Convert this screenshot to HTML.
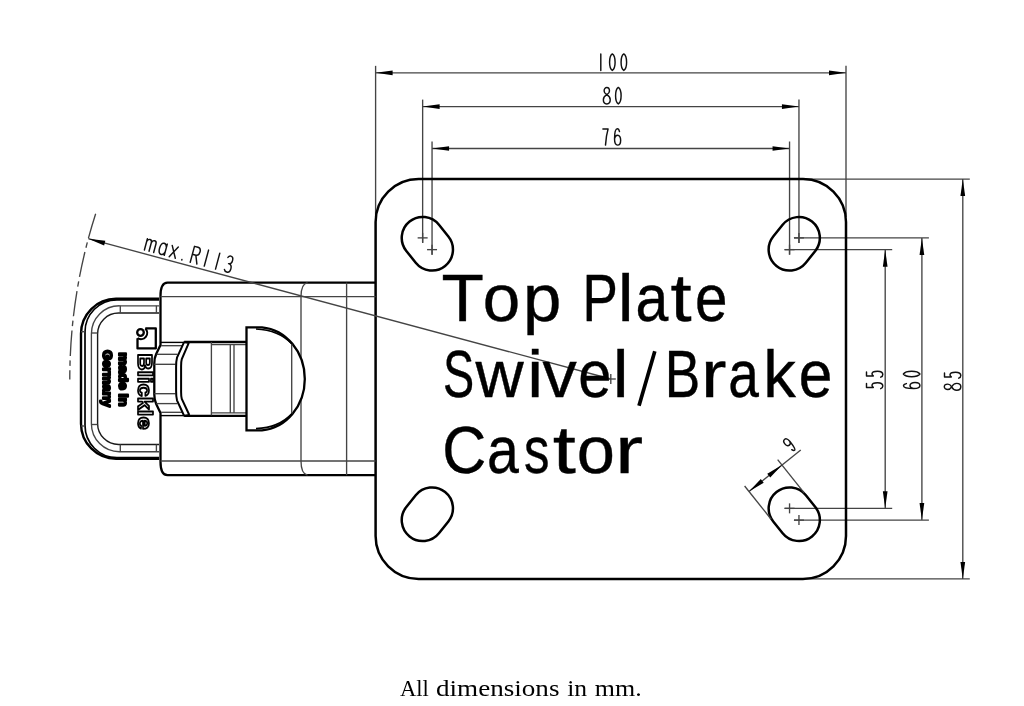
<!DOCTYPE html>
<html><head><meta charset="utf-8"><style>
html,body{margin:0;padding:0;background:#fff;width:1024px;height:706px;overflow:hidden}
svg{display:block;will-change:transform}
text{font-kerning:none}
</style></head><body>
<svg width="1024" height="706" viewBox="0 0 1024 706">
<rect width="1024" height="706" fill="#fff"/>
<line x1="375.60" y1="65.85" x2="375.60" y2="217.08" stroke="#444444" stroke-width="1.35" fill="none"/>
<line x1="846.00" y1="65.85" x2="846.00" y2="217.08" stroke="#444444" stroke-width="1.35" fill="none"/>
<line x1="422.64" y1="99.60" x2="422.64" y2="242.88" stroke="#444444" stroke-width="1.35" fill="none"/>
<line x1="798.96" y1="99.60" x2="798.96" y2="242.88" stroke="#444444" stroke-width="1.35" fill="none"/>
<line x1="432.05" y1="141.50" x2="432.05" y2="254.64" stroke="#444444" stroke-width="1.35" fill="none"/>
<line x1="789.55" y1="141.50" x2="789.55" y2="254.64" stroke="#444444" stroke-width="1.35" fill="none"/>
<line x1="375.60" y1="72.85" x2="846.00" y2="72.85" stroke="#444444" stroke-width="1.35" fill="none"/>
<polygon points="375.60,72.85 392.60,75.20 392.60,70.50" fill="#000"/>
<polygon points="846.00,72.85 829.00,70.50 829.00,75.20" fill="#000"/>
<line x1="422.64" y1="106.60" x2="798.96" y2="106.60" stroke="#444444" stroke-width="1.35" fill="none"/>
<polygon points="422.64,106.60 439.64,108.95 439.64,104.25" fill="#000"/>
<polygon points="798.96,106.60 781.96,104.25 781.96,108.95" fill="#000"/>
<line x1="432.05" y1="148.50" x2="789.55" y2="148.50" stroke="#444444" stroke-width="1.35" fill="none"/>
<polygon points="432.05,148.50 449.05,150.85 449.05,146.15" fill="#000"/>
<polygon points="789.55,148.50 772.55,146.15 772.55,150.85" fill="#000"/>
<g transform="translate(597.40,53.90) rotate(0.000) skewX(0) scale(1.0)" stroke="#111" stroke-width="1.450" fill="none" stroke-linecap="round" stroke-linejoin="round"><path transform="translate(0.00,0)" d="M3.4,0 V16.5"/><path transform="translate(11.50,0)" d="M3.40 0.00C5.48 1.40 6.20 5.00 6.20 8.25C6.20 11.50 5.48 15.10 3.40 16.50C1.32 15.10 0.68 11.50 0.68 8.25C0.68 5.00 1.32 1.40 3.40 0.00Z"/><path transform="translate(23.00,0)" d="M3.40 0.00C5.48 1.40 6.20 5.00 6.20 8.25C6.20 11.50 5.48 15.10 3.40 16.50C1.32 15.10 0.68 11.50 0.68 8.25C0.68 5.00 1.32 1.40 3.40 0.00Z"/></g>
<g transform="translate(603.40,87.40) rotate(0.000) skewX(0) scale(1.0)" stroke="#111" stroke-width="1.450" fill="none" stroke-linecap="round" stroke-linejoin="round"><path transform="translate(0.00,0)" d="M3.40 7.30C1.51 6.20 0.73 4.80 0.73 3.50C0.73 1.40 2.02 0.00 3.40 0.00C4.78 0.00 6.07 1.40 6.07 3.50C6.07 4.80 5.29 6.20 3.40 7.30ZM3.40 7.30C0.99 8.60 -0.04 10.40 -0.04 12.40C-0.04 14.80 1.51 16.50 3.40 16.50C5.29 16.50 6.84 14.80 6.84 12.40C6.84 10.40 5.81 8.60 3.40 7.30Z"/><path transform="translate(11.50,0)" d="M3.40 0.00C5.48 1.40 6.20 5.00 6.20 8.25C6.20 11.50 5.48 15.10 3.40 16.50C1.32 15.10 0.68 11.50 0.68 8.25C0.68 5.00 1.32 1.40 3.40 0.00Z"/></g>
<g transform="translate(602.70,128.60) rotate(0.000) skewX(0) scale(1.0)" stroke="#111" stroke-width="1.450" fill="none" stroke-linecap="round" stroke-linejoin="round"><path transform="translate(0.00,0)" d="M0.2,0.3 H5.4 C4,5 3.2,10 2.8,16.5"/><path transform="translate(11.50,0)" d="M5.29 3.00C4.84 1.00 4.03 0.10 3.13 0.10C1.24 0.10 0.34 4.00 0.34 10.50C0.34 14.30 1.60 16.50 3.40 16.50C5.29 16.50 6.46 14.50 6.46 11.60C6.46 8.50 5.29 6.60 3.40 6.60C1.78 6.60 0.70 8.00 0.38 10.00"/></g>
<line x1="784.55" y1="249.64" x2="892.20" y2="249.64" stroke="#444444" stroke-width="1.35" fill="none"/>
<line x1="784.55" y1="508.36" x2="892.20" y2="508.36" stroke="#444444" stroke-width="1.35" fill="none"/>
<line x1="793.96" y1="237.88" x2="928.90" y2="237.88" stroke="#444444" stroke-width="1.35" fill="none"/>
<line x1="793.96" y1="520.12" x2="928.90" y2="520.12" stroke="#444444" stroke-width="1.35" fill="none"/>
<line x1="802.00" y1="179.08" x2="969.80" y2="179.08" stroke="#444444" stroke-width="1.35" fill="none"/>
<line x1="802.00" y1="578.92" x2="969.80" y2="578.92" stroke="#444444" stroke-width="1.35" fill="none"/>
<line x1="885.20" y1="249.64" x2="885.20" y2="508.36" stroke="#444444" stroke-width="1.35" fill="none"/>
<polygon points="885.20,249.64 882.85,266.64 887.55,266.64" fill="#000"/>
<polygon points="885.20,508.36 887.55,491.36 882.85,491.36" fill="#000"/>
<line x1="921.90" y1="237.88" x2="921.90" y2="520.12" stroke="#444444" stroke-width="1.35" fill="none"/>
<polygon points="921.90,237.88 919.55,254.88 924.25,254.88" fill="#000"/>
<polygon points="921.90,520.12 924.25,503.12 919.55,503.12" fill="#000"/>
<line x1="962.80" y1="179.08" x2="962.80" y2="578.92" stroke="#444444" stroke-width="1.35" fill="none"/>
<polygon points="962.80,179.08 960.45,196.08 965.15,196.08" fill="#000"/>
<polygon points="962.80,578.92 965.15,561.92 960.45,561.92" fill="#000"/>
<g transform="translate(866.30,389.20) rotate(-90.000) skewX(0) scale(1.0)" stroke="#111" stroke-width="1.450" fill="none" stroke-linecap="round" stroke-linejoin="round"><path transform="translate(0.00,0)" d="M5.65 0.20H1.78V7.00C2.41 6.10 3.04 5.70 3.85 5.70C5.47 5.70 6.55 8.00 6.55 11.20C6.55 14.30 5.20 16.50 3.31 16.50C1.96 16.50 1.06 15.60 0.52 14.40"/><path transform="translate(11.50,0)" d="M5.65 0.20H1.78V7.00C2.41 6.10 3.04 5.70 3.85 5.70C5.47 5.70 6.55 8.00 6.55 11.20C6.55 14.30 5.20 16.50 3.31 16.50C1.96 16.50 1.06 15.60 0.52 14.40"/></g>
<g transform="translate(903.40,388.90) rotate(-90.000) skewX(0) scale(1.0)" stroke="#111" stroke-width="1.450" fill="none" stroke-linecap="round" stroke-linejoin="round"><path transform="translate(0.00,0)" d="M5.29 3.00C4.84 1.00 4.03 0.10 3.13 0.10C1.24 0.10 0.34 4.00 0.34 10.50C0.34 14.30 1.60 16.50 3.40 16.50C5.29 16.50 6.46 14.50 6.46 11.60C6.46 8.50 5.29 6.60 3.40 6.60C1.78 6.60 0.70 8.00 0.38 10.00"/><path transform="translate(11.50,0)" d="M3.40 0.00C5.48 1.40 6.20 5.00 6.20 8.25C6.20 11.50 5.48 15.10 3.40 16.50C1.32 15.10 0.68 11.50 0.68 8.25C0.68 5.00 1.32 1.40 3.40 0.00Z"/></g>
<g transform="translate(944.30,390.20) rotate(-90.000) skewX(0) scale(1.0)" stroke="#111" stroke-width="1.450" fill="none" stroke-linecap="round" stroke-linejoin="round"><path transform="translate(0.00,0)" d="M3.40 7.30C1.51 6.20 0.73 4.80 0.73 3.50C0.73 1.40 2.02 0.00 3.40 0.00C4.78 0.00 6.07 1.40 6.07 3.50C6.07 4.80 5.29 6.20 3.40 7.30ZM3.40 7.30C0.99 8.60 -0.04 10.40 -0.04 12.40C-0.04 14.80 1.51 16.50 3.40 16.50C5.29 16.50 6.84 14.80 6.84 12.40C6.84 10.40 5.81 8.60 3.40 7.30Z"/><path transform="translate(11.50,0)" d="M5.65 0.20H1.78V7.00C2.41 6.10 3.04 5.70 3.85 5.70C5.47 5.70 6.55 8.00 6.55 11.20C6.55 14.30 5.20 16.50 3.31 16.50C1.96 16.50 1.06 15.60 0.52 14.40"/></g>
<rect x="375.60" y="179.08" width="470.40" height="399.84" rx="43" ry="43" stroke="#000" stroke-width="2.5" fill="none"/>
<path d="M448.37,236.58 L438.96,224.82 A20.9,20.9 0 0 0 406.32,250.94 L415.73,262.70 A20.9,20.9 0 0 0 448.37,236.58Z" stroke="#000" stroke-width="2.5" fill="none"/>
<path d="M805.87,262.70 L815.28,250.94 A20.9,20.9 0 0 0 782.64,224.82 L773.23,236.58 A20.9,20.9 0 0 0 805.87,262.70Z" stroke="#000" stroke-width="2.5" fill="none"/>
<path d="M773.23,521.42 L782.64,533.18 A20.9,20.9 0 0 0 815.28,507.06 L805.87,495.30 A20.9,20.9 0 0 0 773.23,521.42Z" stroke="#000" stroke-width="2.5" fill="none"/>
<path d="M415.73,495.30 L406.32,507.06 A20.9,20.9 0 0 0 438.96,533.18 L448.37,521.42 A20.9,20.9 0 0 0 415.73,495.30Z" stroke="#000" stroke-width="2.5" fill="none"/>
<line x1="427.05" y1="249.64" x2="437.05" y2="249.64" stroke="#444444" stroke-width="1.35" fill="none"/>
<line x1="432.05" y1="244.64" x2="432.05" y2="254.64" stroke="#444444" stroke-width="1.35" fill="none"/>
<line x1="417.64" y1="237.88" x2="427.64" y2="237.88" stroke="#444444" stroke-width="1.35" fill="none"/>
<line x1="422.64" y1="232.88" x2="422.64" y2="242.88" stroke="#444444" stroke-width="1.35" fill="none"/>
<line x1="784.55" y1="249.64" x2="794.55" y2="249.64" stroke="#444444" stroke-width="1.35" fill="none"/>
<line x1="789.55" y1="244.64" x2="789.55" y2="254.64" stroke="#444444" stroke-width="1.35" fill="none"/>
<line x1="793.96" y1="237.88" x2="803.96" y2="237.88" stroke="#444444" stroke-width="1.35" fill="none"/>
<line x1="798.96" y1="232.88" x2="798.96" y2="242.88" stroke="#444444" stroke-width="1.35" fill="none"/>
<line x1="784.55" y1="508.36" x2="794.55" y2="508.36" stroke="#444444" stroke-width="1.35" fill="none"/>
<line x1="789.55" y1="503.36" x2="789.55" y2="513.36" stroke="#444444" stroke-width="1.35" fill="none"/>
<line x1="793.96" y1="520.12" x2="803.96" y2="520.12" stroke="#444444" stroke-width="1.35" fill="none"/>
<line x1="798.96" y1="515.12" x2="798.96" y2="525.12" stroke="#444444" stroke-width="1.35" fill="none"/>
<line x1="605.80" y1="379.00" x2="615.80" y2="379.00" stroke="#444444" stroke-width="1.35" fill="none"/>
<line x1="610.80" y1="374.00" x2="610.80" y2="384.00" stroke="#444444" stroke-width="1.35" fill="none"/>
<line x1="804.19" y1="492.81" x2="777.64" y2="459.62" stroke="#444444" stroke-width="1.35" fill="none"/>
<line x1="771.16" y1="519.23" x2="744.61" y2="486.04" stroke="#444444" stroke-width="1.35" fill="none"/>
<line x1="748.99" y1="491.51" x2="800.76" y2="450.09" stroke="#444444" stroke-width="1.35" fill="none"/>
<polygon points="782.02,465.08 767.27,473.87 770.21,477.54" fill="#000"/>
<polygon points="748.99,491.51 763.73,482.72 760.79,479.05" fill="#000"/>
<g transform="translate(782.30,441.20) rotate(-38.660) skewX(0) scale(0.9)" stroke="#111" stroke-width="1.611" fill="none" stroke-linecap="round" stroke-linejoin="round"><path transform="translate(0.00,0)" d="M2.32 13.90C2.86 15.70 3.67 16.40 4.39 16.40C5.74 16.40 6.46 12.50 6.46 5.50C6.46 2.00 5.20 0.00 3.40 0.00C1.51 0.00 0.34 1.90 0.34 4.10C0.34 6.50 1.51 8.30 3.40 8.30C5.02 8.30 6.10 6.90 6.42 5.30"/></g>
<path d="M375.59999999999997,282.6 H167.5 C162.5,282.6 160.5,287 160.5,296 V345 L156.2,354.1 Q154.3,358 154.3,363.5 V394.5 Q154.3,400 156.2,403.9 L160.5,413 V461.8 C160.5,470.8 162.5,475.2 167.5,475.2 H375.59999999999997" stroke="#000" stroke-width="2.3" fill="none"/>
<line x1="160.50" y1="296.60" x2="375.60" y2="296.60" stroke="#444444" stroke-width="1.35" fill="none"/>
<line x1="160.50" y1="461.00" x2="375.60" y2="461.00" stroke="#444444" stroke-width="1.35" fill="none"/>
<path d="M307.5,282.6 C303,283.5 301,288 301,296.6 V461 C301,469.5 303,474.3 307.5,475.2" stroke="#444444" stroke-width="1.35" fill="none"/>
<line x1="346.60" y1="282.60" x2="346.60" y2="475.20" stroke="#444444" stroke-width="1.35" fill="none"/>
<line x1="161.00" y1="342.40" x2="184.00" y2="342.40" stroke="#000" stroke-width="1.4"/>
<line x1="161.00" y1="345.70" x2="183.00" y2="345.70" stroke="#444444" stroke-width="1.35" fill="none"/>
<line x1="156.60" y1="354.30" x2="177.50" y2="354.30" stroke="#444444" stroke-width="1.35" fill="none"/>
<line x1="154.30" y1="364.30" x2="175.60" y2="364.30" stroke="#444444" stroke-width="1.35" fill="none"/>
<line x1="154.30" y1="393.70" x2="175.60" y2="393.70" stroke="#444444" stroke-width="1.35" fill="none"/>
<line x1="156.30" y1="403.60" x2="177.50" y2="403.60" stroke="#444444" stroke-width="1.35" fill="none"/>
<line x1="161.00" y1="412.30" x2="183.00" y2="412.30" stroke="#444444" stroke-width="1.35" fill="none"/>
<line x1="161.00" y1="415.60" x2="184.00" y2="415.60" stroke="#000" stroke-width="1.4"/>
<path d="M184.2,341.9 L177,357.7 Q176.1,361 176.1,367 V391 Q176.1,397 177,400.3 L184.2,416" stroke="#000" stroke-width="2" fill="none"/>
<path d="M188.8,342.8 L181.8,359 Q181.1,361.5 181.1,366 V392 Q181.1,396.5 181.8,399 L189.3,415" stroke="#000" stroke-width="2" fill="none"/>
<line x1="184.20" y1="342.00" x2="188.80" y2="342.80" stroke="#000" stroke-width="2" fill="none"/>
<line x1="184.20" y1="415.90" x2="189.30" y2="415.00" stroke="#000" stroke-width="2" fill="none"/>
<line x1="184.20" y1="342.00" x2="246.50" y2="342.00" stroke="#000" stroke-width="2.3" fill="none"/>
<line x1="184.20" y1="415.90" x2="246.50" y2="415.90" stroke="#000" stroke-width="2.3" fill="none"/>
<line x1="211.40" y1="344.60" x2="246.50" y2="344.60" stroke="#444444" stroke-width="1.35" fill="none"/>
<line x1="211.40" y1="412.90" x2="246.50" y2="412.90" stroke="#444444" stroke-width="1.35" fill="none"/>
<line x1="211.40" y1="342.10" x2="211.40" y2="415.40" stroke="#444444" stroke-width="1.35" fill="none"/>
<line x1="230.30" y1="344.60" x2="230.30" y2="412.90" stroke="#444444" stroke-width="1.35" fill="none"/>
<line x1="234.00" y1="344.60" x2="234.00" y2="412.90" stroke="#444444" stroke-width="1.35" fill="none"/>
<path d="M246.5,327.3 L262,327.3 C286,329.5 304.8,352 304.8,379 C304.8,406 286,428.2 262,430.3 L246.5,430.3 Z" fill="#fff" stroke="#000" stroke-width="2.3"/>
<line x1="291.70" y1="343.50" x2="291.70" y2="414.00" stroke="#444444" stroke-width="1.35" fill="none"/>
<path d="M256,329 C272,329.7 284,335.5 292,344 M256,428.6 C272,427.9 284,422.3 292,413.6" stroke="#000" stroke-width="1.7" fill="none"/>
<path d="M159,298.8 H116 A35,35 0 0 0 81,333.8 V423.7 A35,35 0 0 0 116,458.7 H159" stroke="#000" stroke-width="2.4" fill="none"/>
<path d="M159,299.9 H117 A32,32 0 0 0 85,331.9 V425.6 A32,32 0 0 0 117,457.6 H159" stroke="#000" stroke-width="1.7" fill="none"/>
<line x1="81.00" y1="331.70" x2="85.00" y2="331.70" stroke="#444444" stroke-width="1.35" fill="none"/>
<line x1="81.00" y1="426.00" x2="85.00" y2="426.00" stroke="#444444" stroke-width="1.35" fill="none"/>
<path d="M159,305.8 H119.5 A28,28 0 0 0 91.4,333.8 V423.7 A28,28 0 0 0 119.5,451.7 H159" stroke="#444444" stroke-width="1.35" fill="none"/>
<path d="M159,313 H118.6 A21,21 0 0 0 97.6,334 V423.5 A21,21 0 0 0 118.6,444.5 H159" stroke="#1a1a1a" stroke-width="1.4" fill="none"/>
<line x1="120.30" y1="305.80" x2="120.30" y2="313.00" stroke="#444444" stroke-width="1.35" fill="none"/>
<line x1="156.40" y1="305.80" x2="156.40" y2="313.00" stroke="#444444" stroke-width="1.35" fill="none"/>
<line x1="120.30" y1="451.70" x2="120.30" y2="444.50" stroke="#444444" stroke-width="1.35" fill="none"/>
<line x1="156.40" y1="451.70" x2="156.40" y2="444.50" stroke="#444444" stroke-width="1.35" fill="none"/>
<line x1="91.40" y1="333.00" x2="97.60" y2="333.00" stroke="#444444" stroke-width="1.35" fill="none"/>
<line x1="91.40" y1="424.50" x2="97.60" y2="424.50" stroke="#444444" stroke-width="1.35" fill="none"/>
<g stroke="#000" stroke-width="2.3" fill="none" stroke-linejoin="round"><path d="M145.3,328.4 H155.8 V348.4 H137.5 V338.2"/><circle cx="140.5" cy="332.5" r="3.3"/><path d="M145.3,328.4 A6.3,6.3 0 0 1 137.5,338.2" stroke-width="2.1"/></g>
<text transform="translate(138.3,353.5) rotate(90)" font-family="Liberation Sans" font-weight="bold" font-size="21" fill="#fff" stroke="#000" stroke-width="1.75" stroke-linejoin="round" textLength="76" lengthAdjust="spacingAndGlyphs">Blickle</text>
<text transform="translate(119,352.5) rotate(90)" font-family="Liberation Sans" font-weight="bold" font-size="13" fill="#000" stroke="#000" stroke-width="2.1" stroke-linejoin="round" textLength="54" lengthAdjust="spacingAndGlyphs">made in</text>
<text transform="translate(102.5,350) rotate(90)" font-family="Liberation Sans" font-weight="bold" font-size="13.5" fill="#000" stroke="#000" stroke-width="2.1" stroke-linejoin="round" textLength="57" lengthAdjust="spacingAndGlyphs">Germany</text>
<line x1="88.30" y1="238.70" x2="610.80" y2="379.00" stroke="#444444" stroke-width="1.35" fill="none"/>
<polygon points="88.30,238.70 104.11,245.38 105.33,240.84" fill="#000"/>
<path d="M95.66,213.70 A541.01,541.01 0 0 0 69.79,379.50" stroke="#444444" stroke-width="1.35" fill="none" stroke-dasharray="25.5 4.4 5.5 4.4"/>
<g transform="translate(148.67,234.03) rotate(15.030) skewX(0) scale(1.0)" stroke="#111" stroke-width="1.450" fill="none" stroke-linecap="round" stroke-linejoin="round"><path transform="translate(0.00,0)" d="M0,16.5 V4.9 M0,7.5 C0.6,5.6 1.6,4.9 2.7,4.9 C4,4.9 4.8,5.8 4.8,7.5 V16.5 M4.8,7.5 C5.4,5.6 6.4,4.9 7.5,4.9 C8.8,4.9 9.6,5.8 9.6,7.5 V16.5"/><path transform="translate(14.20,0)" d="M6.4,4.9 V16.5 M6.4,8.4 C5.8,6 4.7,4.9 3.2,4.9 C1.2,4.9 0,7.2 0,10.7 C0,14.2 1.2,16.5 3.2,16.5 C4.7,16.5 5.8,15.4 6.4,13"/><path transform="translate(25.70,0)" d="M0,4.9 L6.3,16.5 M6.3,4.9 L0,16.5"/><path transform="translate(38.20,0)" d="M0.5,16 L0.5,16.5"/><path transform="translate(47.45,0)" d="M0,16.5 V0 H3.6 C5.6,0 6.8,1.7 6.8,4.1 C6.8,6.5 5.6,8.2 3.6,8.2 H0 M3.6,8.2 L6.9,16.5"/><path transform="translate(58.62,0)" d="M3.4,0 V16.5"/><path transform="translate(70.25,0)" d="M3.4,0 V16.5"/><path transform="translate(81.88,0)" d="M0.70 2.00C1.24 0.70 2.14 0.00 3.31 0.00C4.84 0.00 6.01 1.50 6.01 3.90C6.01 6.40 4.84 7.90 2.95 7.90C5.29 7.90 6.55 9.90 6.55 12.30C6.55 14.80 5.11 16.50 3.31 16.50C1.96 16.50 0.97 15.80 0.43 14.50"/></g>
<text transform="translate(441.54,320.60) scale(1.0504,1)" font-family="Liberation Sans" font-size="66" fill="#000" stroke="#000" stroke-width="0.4">T</text>
<text transform="translate(482.77,320.60) scale(1.0204,1)" font-family="Liberation Sans" font-size="66" fill="#000" stroke="#000" stroke-width="0.4">o</text>
<text transform="translate(522.96,320.60) scale(1.0445,1)" font-family="Liberation Sans" font-size="66" fill="#000" stroke="#000" stroke-width="0.4">p</text>
<text transform="translate(582.45,320.60) scale(0.8028,1)" font-family="Liberation Sans" font-size="66" fill="#000" stroke="#000" stroke-width="0.4">P</text>
<text transform="translate(617.86,320.60) scale(1.0800,1)" font-family="Liberation Sans" font-size="66" fill="#000" stroke="#000" stroke-width="0.4">l</text>
<text transform="translate(635.59,320.60) scale(0.8937,1)" font-family="Liberation Sans" font-size="66" fill="#000" stroke="#000" stroke-width="0.4">a</text>
<text transform="translate(670.55,320.60) scale(1.1510,1)" font-family="Liberation Sans" font-size="66" fill="#000" stroke="#000" stroke-width="0.4">t</text>
<text transform="translate(694.92,320.60) scale(0.8847,1)" font-family="Liberation Sans" font-size="66" fill="#000" stroke="#000" stroke-width="0.4">e</text>
<text transform="translate(442.98,396.80) scale(0.7080,1)" font-family="Liberation Sans" font-size="66" fill="#000" stroke="#000" stroke-width="0.4">S</text>
<text transform="translate(475.50,396.80) scale(1.0100,1)" font-family="Liberation Sans" font-size="66" fill="#000" stroke="#000" stroke-width="0.4">w</text>
<text transform="translate(527.30,396.80) scale(1.0800,1)" font-family="Liberation Sans" font-size="66" fill="#000" stroke="#000" stroke-width="0.4">i</text>
<text transform="translate(542.47,396.80) scale(1.0384,1)" font-family="Liberation Sans" font-size="66" fill="#000" stroke="#000" stroke-width="0.4">v</text>
<text transform="translate(578.27,396.80) scale(0.9041,1)" font-family="Liberation Sans" font-size="66" fill="#000" stroke="#000" stroke-width="0.4">e</text>
<text transform="translate(612.76,396.80) scale(1.0800,1)" font-family="Liberation Sans" font-size="66" fill="#000" stroke="#000" stroke-width="0.4">l</text>
<line x1="654.80" y1="351.30" x2="639.00" y2="405.80" stroke="#000" stroke-width="3.7"/>
<text transform="translate(664.84,396.80) scale(0.8056,1)" font-family="Liberation Sans" font-size="66" fill="#000" stroke="#000" stroke-width="0.4">B</text>
<text transform="translate(701.03,396.80) scale(1.1576,1)" font-family="Liberation Sans" font-size="66" fill="#000" stroke="#000" stroke-width="0.4">r</text>
<text transform="translate(728.36,396.80) scale(0.8348,1)" font-family="Liberation Sans" font-size="66" fill="#000" stroke="#000" stroke-width="0.4">a</text>
<text transform="translate(763.21,396.80) scale(0.9878,1)" font-family="Liberation Sans" font-size="66" fill="#000" stroke="#000" stroke-width="0.4">k</text>
<text transform="translate(798.83,396.80) scale(0.9170,1)" font-family="Liberation Sans" font-size="66" fill="#000" stroke="#000" stroke-width="0.4">e</text>
<text transform="translate(442.20,473.30) scale(0.9235,1)" font-family="Liberation Sans" font-size="66" fill="#000" stroke="#000" stroke-width="0.4">C</text>
<text transform="translate(486.97,473.30) scale(0.8672,1)" font-family="Liberation Sans" font-size="66" fill="#000" stroke="#000" stroke-width="0.4">a</text>
<text transform="translate(523.88,473.30) scale(0.7714,1)" font-family="Liberation Sans" font-size="66" fill="#000" stroke="#000" stroke-width="0.4">s</text>
<text transform="translate(552.74,473.30) scale(1.2578,1)" font-family="Liberation Sans" font-size="66" fill="#000" stroke="#000" stroke-width="0.4">t</text>
<text transform="translate(576.82,473.30) scale(1.0397,1)" font-family="Liberation Sans" font-size="66" fill="#000" stroke="#000" stroke-width="0.4">o</text>
<text transform="translate(615.10,473.30) scale(1.2788,1)" font-family="Liberation Sans" font-size="66" fill="#000" stroke="#000" stroke-width="0.4">r</text>
<text transform="translate(399.88,695.70) scale(0.9581,1)" font-family="Liberation Serif" font-size="23.5" fill="#000">All</text>
<text transform="translate(436.02,695.70) scale(1.1532,1)" font-family="Liberation Serif" font-size="23.5" fill="#000">dimensions</text>
<text transform="translate(567.16,695.70) scale(1.0901,1)" font-family="Liberation Serif" font-size="23.5" fill="#000">in</text>
<text transform="translate(594.86,695.70) scale(1.1042,1)" font-family="Liberation Serif" font-size="23.5" fill="#000">mm.</text>
</svg>
</body></html>
